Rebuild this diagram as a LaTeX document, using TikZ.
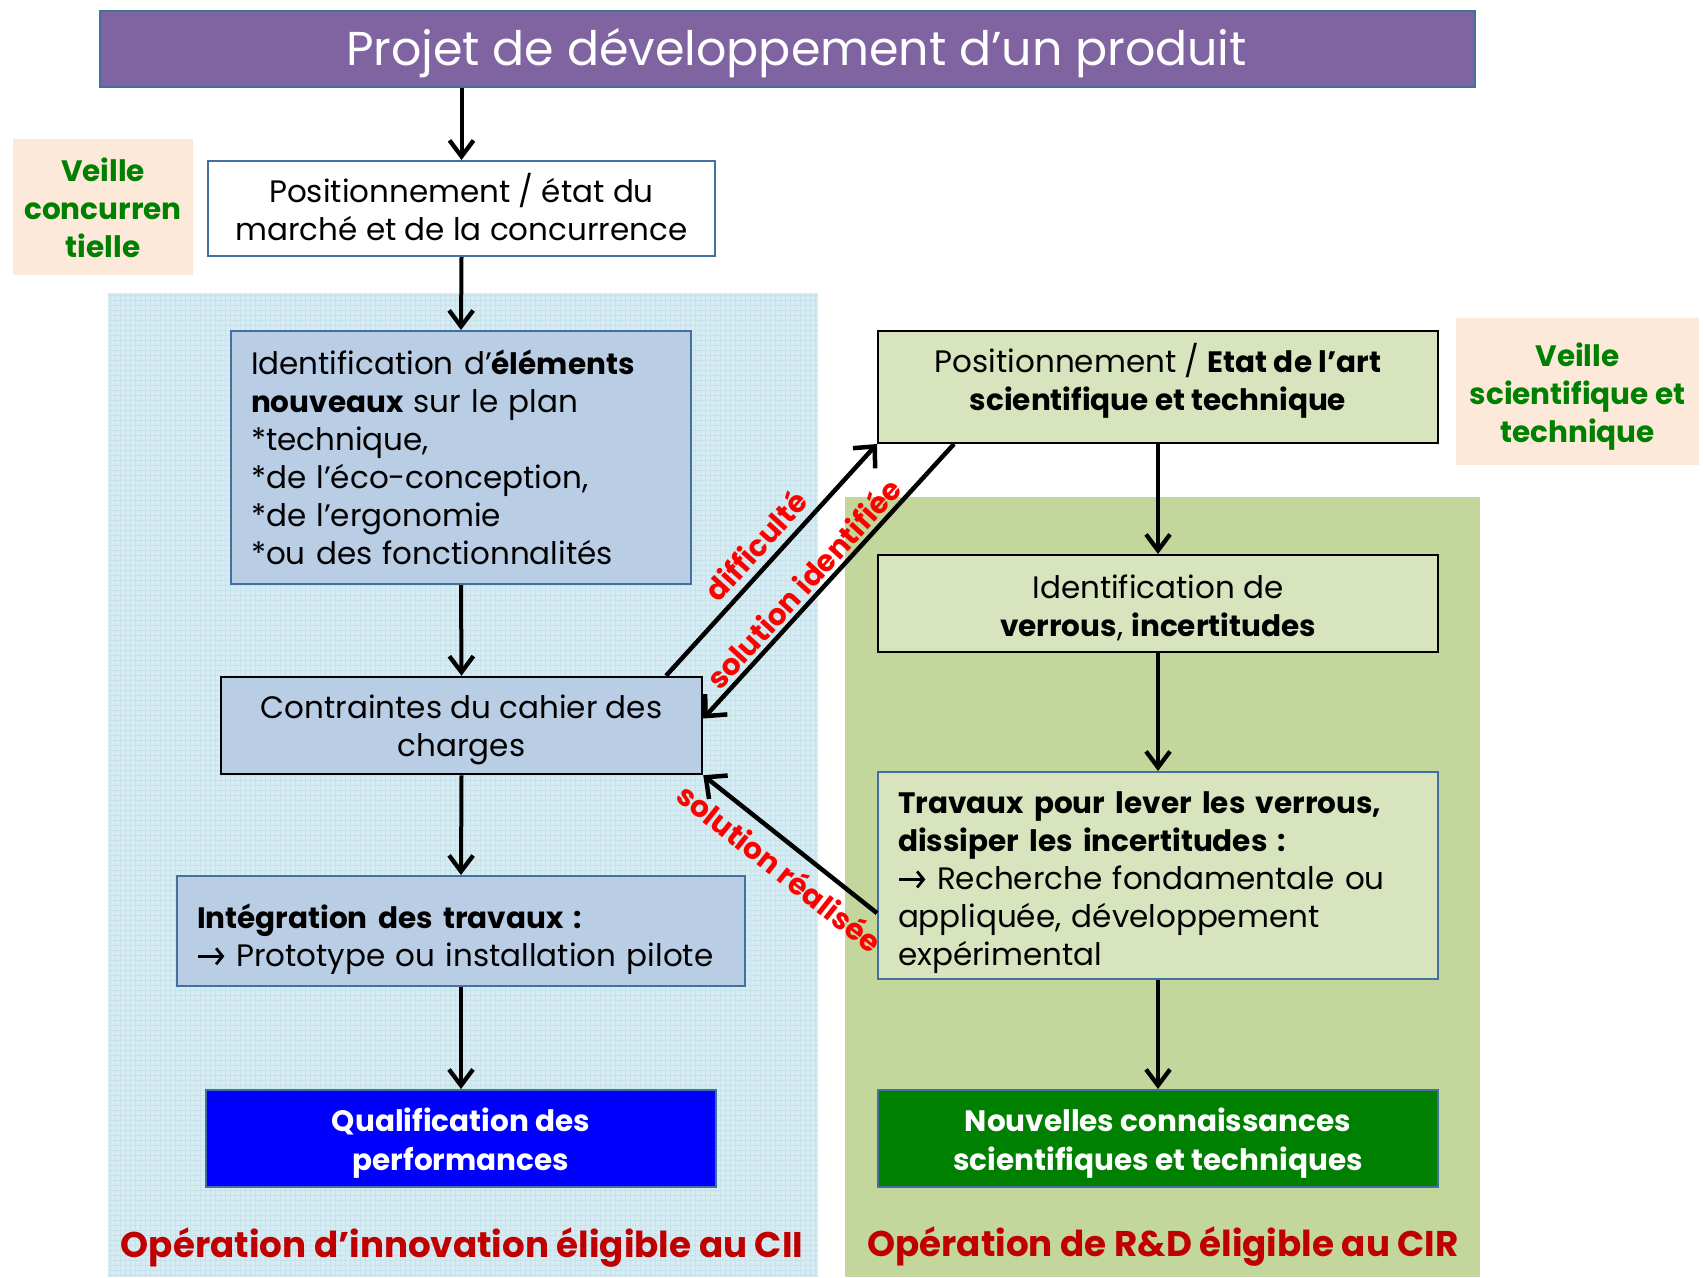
\documentclass[tikz,border=0pt]{standalone}
\usepackage{fontspec}
\setmainfont{Poppins}
\usetikzlibrary{arrows.meta,calc}
\definecolor{purp}{HTML}{8064A2}
\definecolor{bordblue}{HTML}{41719C}
\definecolor{boxblue}{HTML}{B9CDE5}
\definecolor{leftbg}{HTML}{D6ECF2}
\definecolor{gridc}{HTML}{C6E2EB}
\definecolor{rightbg}{HTML}{C3D69B}
\definecolor{rbox}{HTML}{D7E4BD}
\definecolor{peach}{HTML}{FDE9D9}
\definecolor{vgreen}{HTML}{008000}
\definecolor{darkred}{HTML}{C00000}
\definecolor{lblred}{HTML}{FF0000}
\newcommand{\rarr}{\tikz[x=1pt,y=1pt,baseline=-10pt]\draw[line width=2.8pt,-{Straight Barb[length=6.5pt,width=16pt,line width=2.8pt]}] (0,0) -- (26,0);}
\newcommand{\bt}[1]{{\fontsize{29.5}{38}\selectfont\bfseries #1}}
\begin{document}
\begin{tikzpicture}[x=1pt,y=-1pt,
  body/.style={font=\fontsize{31}{38}\selectfont, inner sep=0pt},
  box/.style={draw, line width=2pt, inner sep=0pt},
  bluebox/.style={box, fill=boxblue, draw=bordblue},
  greenbox/.style={box, fill=rbox, draw=black},
  veille/.style={fill=peach, inner sep=0pt},
  veilletxt/.style={align=center, text=vgreen, inner sep=0pt,
    font=\fontsize{29.5}{38}\selectfont\bfseries},
  result/.style={box, draw=bordblue},
  resulttxt/.style={align=center, text=white, inner sep=0pt, font=\fontsize{29.5}{39}\selectfont\bfseries},
  flow/.style={-{Straight Barb[length=16pt,width=24pt,line width=4.3pt]}, line width=4pt},
  side/.style={-{Straight Barb[length=16pt,width=30pt,line width=4.5pt]}, line width=4.5pt},
  lbl/.style={text=lblred, font=\fontsize{29.5}{32}\selectfont\bfseries, inner sep=3pt},
  zone/.style={text=darkred, font=\fontsize{35.7}{40}\selectfont\bfseries}
]
\useasboundingbox (0,0) rectangle (1704,1277);
% background zones
\fill[leftbg] (108,293) rectangle (818,1277);
\draw[gridc, line width=0.5pt, step=5pt] (108,293) grid (818,1277);
\fill[rightbg] (845,497) rectangle (1480,1277);

% title
\node[box, fill=purp, draw=bordblue, minimum width=1375pt, minimum height=76pt] (title) at (787.5,49) {};
\node[text=white, inner sep=0pt, font=\fontsize{47.5}{52}\selectfont] (titlet) at ($(title.center)+(9,4)$)
  {Projet de développement d’un produit};

% veille boxes
\node[veille, minimum width=180pt, minimum height=136pt] (vc) at (103,207) {};
\node[veilletxt] (vct) at ($(vc.center)+(0,1)$) {Veille\\concurren\\tielle};
\node[veille, minimum width=243pt, minimum height=147pt] (vs) at (1577.5,391.5) {};
\node[veilletxt] (vst) at ($(vs.center)+(0,5)$) {Veille\\scientifique et\\technique};

% left column
\node[box, fill=white, draw=bordblue, minimum width=507pt, minimum height=95pt] (pos) at (461.5,208.5) {};
\node[body, align=center] (post) at ($(pos.center)+(0,-1)$) {Positionnement / état du\\marché et de la concurrence};

\node[bluebox, minimum width=460pt, minimum height=253pt] (idn) at (461,457.5) {};
\node[body, align=left, text width=420pt] (idnt) at ($(idn.center)+(0,0)$)
  {Identification d’\bt{éléments}\\\bt{nouveaux} sur le plan\\{}*technique,\\{}*de l'éco-conception,\\{}*de l'ergonomie\\{}*ou des fonctionnalités};

\node[bluebox, draw=black, line width=2.5pt, minimum width=481pt, minimum height=97pt] (cc) at (461.5,725.5) {};
\node[body, align=center] (cct) at ($(cc.center)+(0,4)$) {Contraintes du cahier des\\charges};

\node[bluebox, minimum width=568pt, minimum height=110pt] (integ) at (461,931) {};
\node[body, align=left, text width=528pt] (integt) at ($(integ.center)+(0,8)$)
  {\bt{Intégration des travaux :}\\\rarr{} Prototype ou installation pilote};

\node[result, fill=blue, minimum width=510pt, minimum height=97pt] (qual) at (461,1138.5) {};
\node[resulttxt] (qualt) at ($(qual.center)+(0,5)$) {Qualification des\\performances};
\node[zone] (zl) at (462,1248) {Opération d’innovation éligible au CII};

% right column
\node[greenbox, minimum width=560pt, minimum height=112pt] (ea) at (1158,387) {};
\node[body, align=center] (eat) at (1158,381) {Positionnement / \bt{Etat de l’art}\\\bt{scientifique et technique}};

\node[greenbox, minimum width=560pt, minimum height=97pt] (ver) at (1158,603.5) {};
\node[body, align=center] (vert) at ($(ver.center)+(0,4)$) {Identification de\\\bt{verrous}, \bt{incertitudes}};

\node[box, fill=rbox, draw=bordblue, minimum width=560pt, minimum height=207pt] (trav) at (1158,875.5) {};
\node[body, align=left, text width=520pt] (travt) at ($(trav.center)+(0,7)$)
  {\bt{Travaux pour lever les verrous,}\\\bt{dissiper les incertitudes :}\\\rarr{} Recherche fondamentale ou\\appliquée, développement\\expérimental};

\node[result, fill=vgreen, minimum width=560pt, minimum height=97pt] (nouv) at (1158,1138.5) {};
\node[resulttxt] (nouvt) at ($(nouv.center)+(0,5)$) {Nouvelles connaissances\\scientifiques et techniques};
\node[zone] (zr) at (1163,1247) {Opération de R\&D éligible au CIR};

% vertical flow arrows
\draw[flow] (title.south -| pos.north) -- (pos.north);
\draw[flow] (pos.south) -- (idn.north);
\draw[flow] (idn.south) -- (cc.north);
\draw[flow] (cc.south) -- (integ.north);
\draw[flow] (integ.south) -- (qual.north);
\draw[flow] (ea.south) -- (ver.north);
\draw[flow] (ver.south) -- (trav.north);
\draw[flow] (trav.south) -- (nouv.north);

% diagonal arrows
\draw[side] ($(cc.north west)!0.923!(cc.north east)$) -- (ea.south west)
  node[lbl, inner ysep=7pt, pos=0.5, sloped, above] {difficulté};
\draw[side] ($(ea.south west)!0.137!(ea.south east)$) -- ($(cc.north east)!0.43!(cc.south east)$)
  node[lbl, pos=0.55, sloped, above] {solution identifiée};
\draw[side] ($(trav.north west)!0.68!(trav.south west)$) -- (cc.south east)
  node[lbl, inner ysep=10pt, pos=0.47, sloped, below] {solution réalisée};
\end{tikzpicture}
\end{document}
